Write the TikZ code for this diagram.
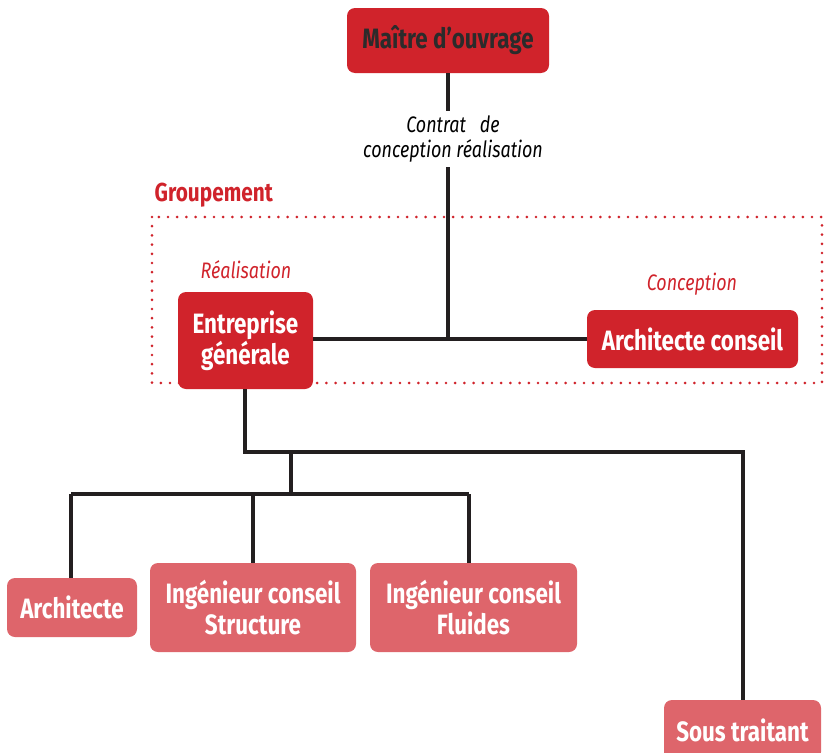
\documentclass[tikz,border=0pt]{standalone}
\usepackage{fontspec}
\setmainfont{Fira Sans}[FakeStretch=0.8]
\definecolor{darkred}{HTML}{D0232B}
\definecolor{lightred}{HTML}{DE656B}
\definecolor{linec}{HTML}{231F20}
\definecolor{txtdark}{HTML}{2B2B2B}
\begin{document}
\begin{tikzpicture}[x=0.75pt,y=-0.75pt,
  box/.style={rounded corners=6pt,inner sep=0pt,font=\bfseries\fontsize{21}{24}\selectfont,align=center},
  darkbox/.style={box,fill=darkred,text=white},
  lightbox/.style={box,fill=lightred,text=white},
  conn/.style={draw=linec,line width=2.4pt},
  lab/.style={font=\itshape\fontsize{16.8}{20}\selectfont,align=center},
  redlab/.style={lab,text=darkred},
  grp/.style={draw=darkred,line width=2.2pt,line cap=round,dash pattern=on 0pt off 6.9pt}]
\useasboundingbox (0,0) rectangle (825,753);
% group frame
\draw[grp] (152,217) rectangle (822,383);
\node[anchor=west,text=darkred,font=\bfseries\fontsize{19.5}{22}\selectfont] (grouplab) at (150,195) {Groupement};
% boxes
\node[darkbox,text=txtdark,minimum width=202*0.75pt,minimum height=65*0.75pt] (mo) at (448,40.5) {Maître d’ouvrage};
\node[darkbox,minimum width=135*0.75pt,minimum height=97*0.75pt] (eg) at (245.5,340.5) {Entreprise\\[-1pt]générale};
\node[darkbox,minimum width=211*0.75pt,minimum height=58*0.75pt] (ac) at (692.5,339) {Architecte conseil};
\node[lightbox,minimum width=130*0.75pt,minimum height=59*0.75pt] (ar) at (72,607.5) {Architecte};
\node[lightbox,minimum width=206*0.75pt,minimum height=89*0.75pt] (is) at (253,607.5) {Ingénieur conseil\\[-1pt]Structure};
\node[lightbox,minimum width=207*0.75pt,minimum height=89*0.75pt] (if) at (473.5,607.5) {Ingénieur conseil\\[-1pt]Fluides};
\node[lightbox,minimum width=157*0.75pt,minimum height=60*0.75pt] (st) at (742.5,730) {Sous traitant};
% labels
\node[lab] (contrat) at (453,139) {Contrat\ \ \ de\\[-1pt]conception réalisation};
\node[redlab] (real) at (246,270) {Réalisation};
\node[redlab] (conc) at (692,284) {Conception};
% coordinates
\coordinate (j1) at (448,339);
\coordinate (j2) at (245,452);
\coordinate (j3) at (291,452);
\coordinate (j4) at (743,452);
\coordinate (j5) at (291,494);
\coordinate (j6) at (71,494);
\coordinate (j7) at (469,494);
\coordinate (j8) at (253,494);
% connectors
\draw[conn] (mo.south -| j1) -- (contrat.north -| j1);
\draw[conn] (contrat.south -| j1) -- (j1);
\draw[conn] (eg.east |- j1) -- (ac.west |- j1);
\draw[conn] (eg.south -| j2) -- (j2) -- (j4) -- (st.north -| j4);
\draw[conn] (j3) -- (j5);
\draw[conn] (j6) -- (j7);
\draw[conn] (j6) -- (ar.north -| j6);
\draw[conn] (j8) -- (is.north);
\draw[conn] (j7) -- (if.north -| j7);
\end{tikzpicture}
\end{document}
